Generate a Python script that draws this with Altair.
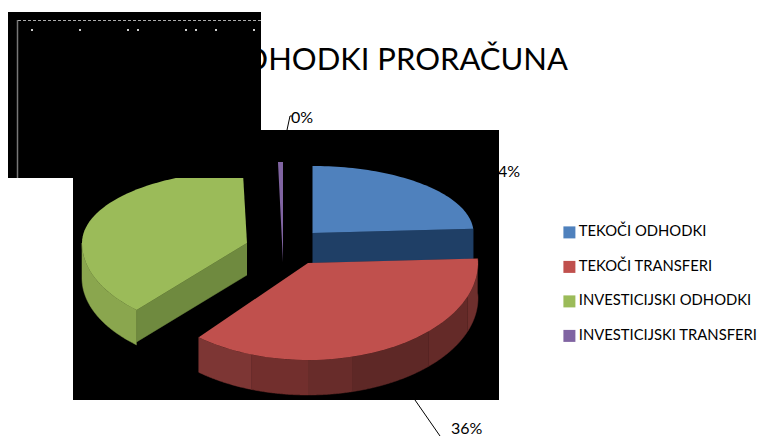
import math
import altair as alt
import pandas as pd

# --- chart data ---
series = ["TEKOČI ODHODKI", "TEKOČI TRANSFERI", "INVESTICIJSKI ODHODKI", "INVESTICIJSKI TRANSFERI"]
values = [24, 36, 39.6, 0.4]
value_labels = ["24%", "36%", "40%", "0%"]
top_colors = ["#4f81bd", "#c0504d", "#9bbb59", "#8064a2"]
title_text = "ODHODKI PRORAČUNA"

# --- picture geometry (exploded, tilted pie; centre, radii, depth, perspective per slice) ---
WIDTH, HEIGHT = 754, 428
FONT = "Lato"
shape = [
    dict(cx=312.5, cy=233, rx=161, ryt=67, ryb=67, depth=30, warp=0),
    dict(cx=308, cy=263, rx=170, ryt=70, ryb=97, depth=35, warp=4.2),
    dict(cx=247, cy=243, rx=165, ryt=72, ryb=90, depth=35, warp=6.3),
    dict(cx=283, cy=262, rx=200, ryt=100, ryb=100, depth=0, warp=0),
]

total = sum(values)
edges = [0]
for v in values:
    edges.append(edges[-1] + v / total * 360)


def pt(s, deg):
    view = deg
    if 180 <= deg <= 270:
        view = deg + s["warp"] * math.sin(math.radians(2 * (deg - 180)))
    a = math.radians(view)
    ry = s["ryt"] if math.cos(a) > 0 else s["ryb"]
    return s["cx"] + s["rx"] * math.sin(a), s["cy"] - ry * math.cos(a)


def arc(s, a0, a1, n=60):
    return [pt(s, a0 + (a1 - a0) * k / n) for k in range(n + 1)]


def down(points, depth):
    return [(x, y + depth) for x, y in reversed(points)]


tops, walls = [], []
for i, name in enumerate(series):
    s = shape[i]
    poly = [(s["cx"], s["cy"])] + arc(s, edges[i], edges[i + 1])
    tops += [dict(series=name, i=k, x=x, y=y) for k, (x, y) in enumerate(poly)]


def add_wall(key, color, points):
    walls.append((color, pd.DataFrame(
        [dict(part=key, i=k, x=x, y=y) for k, (x, y) in enumerate(points)])))


# blue: cut face under its lower edge
b = shape[0]
edge = [(b["cx"], b["cy"]), pt(b, edges[1])]
add_wall("b1", "#1f3f66", edge + down(edge, b["depth"]))

# red: outer rim, darker towards the centre
r = shape[1]
for key, col, a0, a1 in [("r1", "#6e2f2d", edges[1], 110),
                         ("r2", "#642a28", 110, 135),
                         ("r3", "#5e2826", 135, 165),
                         ("r4", "#682c2a", 165, 180),
                         ("r5", "#722f2d", 180, 197),
                         ("r6", "#7d3634", 197, edges[2])]:
    rim = arc(r, a0, a1)
    add_wall(key, col, rim + down(rim, r["depth"]))

# green: cut face, then outer rim
g = shape[2]
edge = [(g["cx"], g["cy"]), pt(g, edges[2])]
add_wall("g1", "#6f8a3f", edge + down(edge, g["depth"] - 3))
rim = arc(g, edges[2], 270)
add_wall("g2", "#8aa64e", rim + down(rim, g["depth"]))


def px(v):
    return v - 8


X = alt.X("x:Q", scale=alt.Scale(domain=[8, 8 + WIDTH], nice=False, zero=False), axis=None)
Y = alt.Y("y:Q", scale=alt.Scale(domain=[8 + HEIGHT, 8], nice=False, zero=False), axis=None)
one = alt.Data(values=[{"a": 1}])


def rect(x0, x1, y0, y1, color="#000000"):
    return alt.Chart(one).mark_rect(color=color).encode(
        x=alt.value(px(x0)), x2=alt.value(px(x1)), y=alt.value(px(y0)), y2=alt.value(px(y1)))


def rule(x0, y0, x1, y1, color="#000000", width=1.0, dash=None):
    kw = dict(color=color, strokeWidth=width)
    if dash:
        kw["strokeDash"] = dash
    return alt.Chart(one).mark_rule(**kw).encode(
        x=alt.value(px(x0)), x2=alt.value(px(x1)), y=alt.value(px(y0)), y2=alt.value(px(y1)))


def label(txt, x, y, size, align="left"):
    return alt.Chart(one).mark_text(
        text=txt, font=FONT, fontSize=size, color="#000000", align=align, baseline="alphabetic"
    ).encode(x=alt.value(px(x)), y=alt.value(px(y)))


layers = [
    label(title_text, 568, 70, 31, "right"),
    label(value_labels[0], 520, 177, 16, "right"),
    label(value_labels[3], 291, 123, 16),
    label(value_labels[1], 451, 434, 16),
    label(value_labels[2], 60, 120, 16),
    rule(287, 130, 290, 116),
    rule(290, 116, 292, 116),
    rule(415, 400, 440, 436),
    rect(73, 499, 130, 400),
]

for color, df in walls:
    layers.append(alt.Chart(df).mark_line(fill=color, stroke=color, strokeWidth=0.5).encode(
        x=X, y=Y, order="i:Q", detail="part:N"))

layers.append(alt.Chart(pd.DataFrame(tops)).mark_line(filled=True, strokeWidth=0).encode(
    x=X, y=Y, order="i:Q",
    fill=alt.Fill("series:N", scale=alt.Scale(domain=series, range=top_colors),
                  legend=alt.Legend(
                      title=None, orient="none", legendX=px(562), legendY=px(225),
                      symbolType="square", symbolSize=144, symbolStrokeWidth=0,
                      labelFont=FONT, labelFontSize=14.8, labelColor="#000000",
                      labelLimit=300, labelOffset=2, rowPadding=18.5,
                  ))))

layers += [
    rect(7, 261, 12, 178),
    rule(17.5, 20, 17.5, 178, "#777777", 1.5),
    rule(18, 20.5, 261, 20.5, "#aaaaaa", 1, [3, 2]),
]
for dot in [32, 80, 128, 138, 186, 196, 216, 254]:
    layers.append(rect(dot - 1, dot + 1, 29, 31, "#cccccc"))

chart = alt.layer(*layers).properties(
    width=WIDTH, height=HEIGHT, padding=0, autosize=alt.AutoSizeParams(type="none"),
    background="#ffffff",
).configure_view(stroke=None)

chart.save("out.html", embed_options={"renderer": "svg", "actions": False})
